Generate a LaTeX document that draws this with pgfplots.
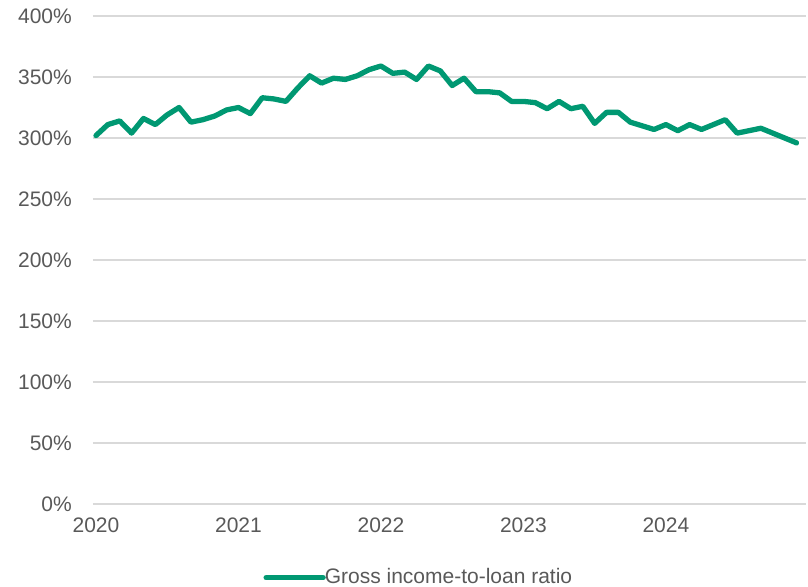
\documentclass[border=0pt]{standalone}
\usepackage{pgfplots}
\pgfplotsset{compat=1.18}
\usepackage{pgfplotstable}
\usepackage{fontspec}
\setmainfont{Liberation Sans}
\definecolor{linegreen}{RGB}{0,152,114}
\definecolor{txtgray}{RGB}{89,89,89}
\definecolor{gridgray}{RGB}{217,217,217}
\pgfplotstableread{
m v
0 302
1 311
2 314
3 304
4 316
5 311
6 319
7 325
8 313
9 315
10 318
11 323
12 325
13 320
14 333
15 332
16 330
17 341
18 351
19 345
20 349
21 348
22 351
23 356
24 359
25 353
26 354
27 348
28 359
29 355
30 343
31 349
32 338
33 338
34 337
35 330
36 330
37 329
38 324
39 330
40 324
41 326
42 312
43 321
44 321
45 313
46 310
47 307
48 311
49 306
50 311
51 307
52 311
53 315
54 304
55 306
56 308
57 304
58 300
59 296
}\datatable
\begin{document}
\fontsize{21bp}{24bp}\selectfont
\begin{tikzpicture}
\begin{axis}[
  name=ax,
  scale only axis,
  width=713bp, height=488bp,
  xmin=-0.25, xmax=59.8,
  ymin=0, ymax=400,
  axis line style={draw=none},
  ytick={0,50,...,400},
  yticklabels={0\%,50\%,100\%,150\%,200\%,250\%,300\%,350\%,400\%},
  xtick={0,12,24,36,48},
  xticklabels={2020,2021,2022,2023,2024},
  major tick length=0pt,
  ymajorgrids,
  grid style={gridgray, line width=1.3pt},
  tick label style={txtgray, font=\fontsize{21bp}{24bp}\selectfont},
  yticklabel style={xshift=-14bp},
  xticklabel style={yshift=-7bp},
  legend style={at={(0.457,-0.151)}, anchor=center, draw=none, fill=none,
    font=\fontsize{21bp}{24bp}\selectfont, text=txtgray,
    inner sep=0pt, legend cell align=left},
  legend image code/.code={\draw[#1, line width=5.3pt] (0bp,0bp) -- (57bp,0bp);},
  clip=false,
]
\addplot[linegreen, line width=5.3pt, line join=round, line cap=round] table[x=m, y=v] {\datatable};
\addlegendentry{\hspace{-3bp}Gross income-to-loan ratio}
\end{axis}
\pgfresetboundingbox
\path ([xshift=-93bp,yshift=-83bp]ax.south west) rectangle ([xshift=2bp,yshift=16bp]ax.north east);
\end{tikzpicture}
\end{document}
